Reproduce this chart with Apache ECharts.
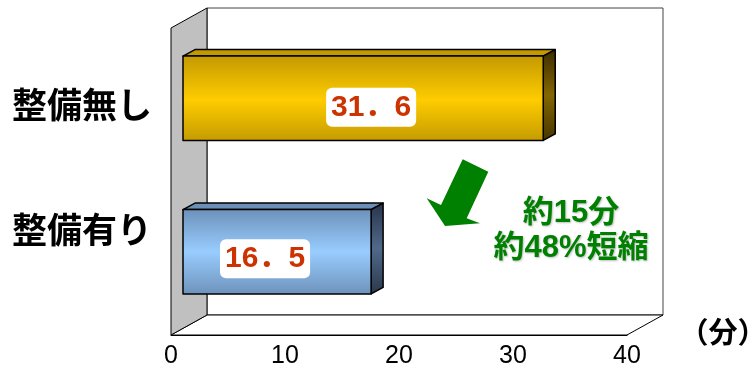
<!DOCTYPE html>
<html>
<head>
<meta charset="utf-8">
<script src="https://cdn.jsdelivr.net/npm/echarts@6/dist/echarts.min.js"></script>
<style>
  html, body { margin: 0; padding: 0; background: #fff; }
  #chart { width: 753px; height: 376px; }
</style>
</head>
<body>
<div id="chart"></div>
<script>
// Travel time comparison (minutes)
const categories = ['整備無し', '整備有り'];
const minutes = [31.6, 16.5];
const axisTicks = [0, 10, 20, 30, 40];
const unitLabel = '（分）';
const noteLines = ['約15分', '約48%短縮'];

// Styling
const JP = '"Noto Sans CJK JP", "Noto Sans", sans-serif';
const MIX = '"Liberation Sans", "Noto Sans CJK JP", sans-serif';
const WALL_DEPTH = [36, -20];     // back wall offset of the 3D frame
const BAR_DEPTH = [12, -6.5];     // thickness of each bar
const BAR_FRONT = [12, -6.5];     // bars sit a little behind the front plane
const BAR_RATIO = 0.55;
const labelShift = [[8, 9], [-12, 7]];
const G = echarts.graphic.LinearGradient;
const palette = [
  {
    front: new G(0, 0, 0, 1, [
      { offset: 0, color: '#c39900' }, { offset: 0.52, color: '#ffcc00' }, { offset: 1, color: '#c49b00' }
    ]),
    top: '#c29a00',
    side: new G(0, 0, 0, 1, [
      { offset: 0, color: '#3a2b00' }, { offset: 0.5, color: '#846600' }, { offset: 1, color: '#463500' }
    ])
  },
  {
    front: new G(0, 0, 0, 1, [
      { offset: 0, color: '#6c91b9' }, { offset: 0.5, color: '#99ccff' }, { offset: 1, color: '#6d92ba' }
    ]),
    top: '#6b8fb6',
    side: new G(0, 0, 0, 1, [
      { offset: 0, color: '#27334a' }, { offset: 0.5, color: '#50698a' }, { offset: 1, color: '#2a374b' }
    ])
  }
];

const barData = minutes.map((v, i) => [v, i]);

function renderFrame(params) {
  const cs = params.coordSys;
  const x0 = cs.x, x1 = cs.x + cs.width, yt = cs.y, yb = cs.y + cs.height;
  const [dx, dy] = WALL_DEPTH;
  return {
    type: 'group',
    children: [
      { type: 'rect', shape: { x: x0 + dx, y: yt + dy, width: x1 - x0, height: yb - yt },
        style: { fill: '#fff', stroke: '#444', lineWidth: 1 } },
      { type: 'polygon', shape: { points: [[x0, yb], [x1, yb], [x1 + dx, yb + dy], [x0 + dx, yb + dy]] },
        style: { fill: '#fff', stroke: '#000', lineWidth: 1 } },
      { type: 'polygon', shape: { points: [[x0, yt], [x0 + dx, yt + dy], [x0 + dx, yb + dy], [x0, yb]] },
        style: { fill: '#c0c0c0', stroke: '#000', lineWidth: 1 } }
    ]
  };
}

function renderBar(params, api) {
  const v = api.value(0), c = api.value(1);
  const s = api.coord([0, c]);
  const e = api.coord([v, c]);
  const h = api.size([0, 1])[1] * BAR_RATIO;
  const fx0 = s[0] + BAR_FRONT[0], fx1 = e[0] + BAR_FRONT[0];
  const cy = s[1] + BAR_FRONT[1];
  const fy0 = cy - h / 2, fy1 = cy + h / 2;
  const [bx, by] = BAR_DEPTH;
  const pal = palette[c];
  const stroke = { stroke: '#000', lineWidth: 1.5, lineJoin: 'round' };
  const sh = labelShift[c];
  return {
    type: 'group',
    children: [
      { type: 'polygon', shape: { points: [[fx0, fy0], [fx0 + bx, fy0 + by], [fx1 + bx, fy0 + by], [fx1, fy0]] },
        style: Object.assign({ fill: pal.top }, stroke) },
      { type: 'polygon', shape: { points: [[fx1, fy0], [fx1 + bx, fy0 + by], [fx1 + bx, fy1 + by], [fx1, fy1]] },
        style: Object.assign({ fill: pal.side }, stroke) },
      { type: 'rect', shape: { x: fx0, y: fy0, width: fx1 - fx0, height: h },
        style: Object.assign({ fill: pal.front }, stroke) },
      { type: 'text', x: (fx0 + fx1) / 2 + sh[0], y: cy + sh[1],
        style: {
          text: String(v).replace('.', '．'),
          align: 'center', verticalAlign: 'middle',
          fill: '#cc3300', fontSize: 30, fontWeight: 'bold', fontFamily: MIX,
          backgroundColor: '#fff', borderRadius: 6, padding: [5, 5, 4, 5]
        } }
    ]
  };
}

const noteStyle = {
  align: 'center', verticalAlign: 'middle', fill: '#008000',
  fontSize: 31, fontWeight: 'bold', fontFamily: MIX,
  textShadowColor: 'rgba(0,0,0,0.25)', textShadowBlur: 2, textShadowOffsetX: 1, textShadowOffsetY: 1
};

const chart = echarts.init(document.getElementById('chart'), null, { renderer: 'canvas' });
chart.setOption({
  animation: false,
  backgroundColor: '#fff',
  grid: { left: 171, right: 126, top: 28, bottom: 41 },
  xAxis: {
    type: 'value', min: axisTicks[0], max: axisTicks[axisTicks.length - 1], interval: 10,
    axisLine: { show: true, lineStyle: { color: '#000', width: 1 } },
    axisTick: { show: true, inside: true, length: 5, lineStyle: { color: '#000' } },
    splitLine: { show: false },
    axisLabel: { margin: 9, fontSize: 25, color: '#000', fontFamily: '"Liberation Sans", Arial, sans-serif' }
  },
  yAxis: {
    type: 'category', inverse: true, data: categories,
    axisLine: { show: false }, axisTick: { show: false },
    axisLabel: {
      margin: 19,
      formatter: (val, idx) => idx === 1 ? '{up|' + val + '}' : '{n|' + val + '}',
      rich: {
        n: { fontSize: 35, fontWeight: 'bold', color: '#000', fontFamily: JP },
        up: { fontSize: 35, fontWeight: 'bold', color: '#000', fontFamily: JP, padding: [0, 0, 58, 0] }
      }
    }
  },
  graphic: [
    { type: 'polygon', z: 10,
      shape: { points: [[462.7, 159.3], [488.3, 171.7], [466.7, 218.3], [480, 223.3], [445, 226], [426.7, 198.3], [441, 205]] },
      style: { fill: '#008000' } },
    { type: 'text', z: 10, x: 571, y: 213, style: Object.assign({ text: noteLines[0] }, noteStyle) },
    { type: 'text', z: 10, x: 571, y: 248, style: Object.assign({ text: noteLines[1] }, noteStyle) },
    { type: 'text', z: 10, x: 723, y: 332,
      style: { text: unitLabel, align: 'center', verticalAlign: 'middle', fill: '#000',
        fontSize: 29, fontWeight: 'bold', fontFamily: JP } }
  ],
  series: [
    { type: 'custom', name: 'frame', data: [[0, 0]], renderItem: renderFrame, z: 1, silent: true },
    { type: 'custom', name: '所要時間', data: barData, renderItem: renderBar, z: 3,
      encode: { x: 0, y: 1 } }
  ]
});
</script>
</body>
</html>
